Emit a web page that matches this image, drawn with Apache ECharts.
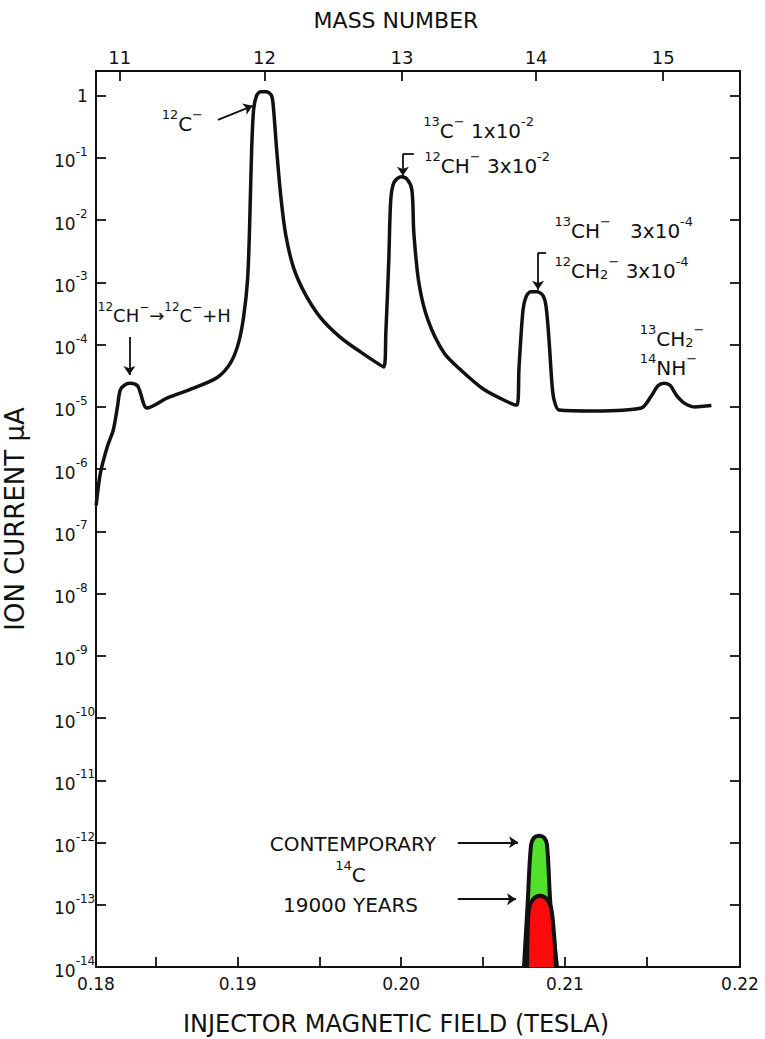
<!DOCTYPE html>
<html><head><meta charset="utf-8">
<script src="https://cdn.jsdelivr.net/npm/echarts@6/dist/echarts.min.js"></script>
<style>html,body{margin:0;padding:0;background:#fff}#c{width:765px;height:1039px}</style>
</head><body><div id="c"></div>
<script>
// ---- data (field in tesla, ion current in microampere) ----
const fieldMain = [0.18136,0.18162,0.18204,0.18241,0.18266,0.18284,0.18315,0.18345,0.18388,0.18406,0.18425,0.18443,
  0.18572,0.18731,0.18878,0.18957,0.19006,0.19037,0.19061,0.19073,0.19086,0.19098,0.19116,0.19141,0.19177,0.19208,
  0.19220,0.19239,0.19263,0.19294,0.19343,0.19416,0.19508,0.19630,0.19753,0.19894,0.19906,0.19924,0.19936,0.19955,
  0.19998,0.20034,0.20065,0.20077,0.20108,0.20163,0.20261,0.20365,0.20506,0.20652,0.20707,0.20720,0.20744,0.20763,
  0.20793,0.20830,0.20867,0.20885,0.20903,0.20922,0.20934,0.20965,0.21179,0.21466,0.21528,0.21570,0.21607,0.21644,
  0.21681,0.21730,0.21791,0.21895];
const currentMain = [2.6e-7,8.7e-7,2.3e-6,4.3e-6,1.0e-5,1.9e-5,2.3e-5,2.4e-5,2.2e-5,1.7e-5,1.15e-5,9.6e-6,
  1.4e-5,2.0e-5,3.0e-5,5.1e-5,1.07e-4,2.8e-4,1.1e-3,7e-3,0.135,0.6,1.0,1.16,1.16,1.0,
  0.6,0.135,0.026,5.9e-3,1.7e-3,6.3e-4,2.7e-4,1.3e-4,7.6e-5,4.4e-5,1.55e-4,2.3e-3,0.021,0.040,
  0.050,0.046,0.031,6.3e-3,9.8e-4,2.5e-4,7.4e-5,3.9e-5,1.9e-5,1.2e-5,1.07e-5,4.4e-5,3.6e-4,5.9e-4,
  7.1e-4,7.1e-4,6.1e-4,4.1e-4,1.2e-4,2.2e-5,1.3e-5,8.9e-6,8.6e-6,9.6e-6,1.5e-5,2.2e-5,2.4e-5,2.2e-5,
  1.55e-5,1.15e-5,1.0e-5,1.05e-5];
const fieldContemporary = [0.20750,0.20772,0.20793,0.20812,0.20842,0.20873,0.20891,0.20912,0.20952];
const currentContemporary = [1e-14,9.9e-14,9.1e-13,1.2e-12,1.29e-12,1.2e-12,9.1e-13,9.9e-14,1e-14];
const fieldOld = [0.20769,0.20772,0.20781,0.20806,0.20848,0.20891,0.20916,0.20934,0.20946];
const currentOld = [1e-14,3.24e-14,8.8e-14,1.23e-13,1.4e-13,1.23e-13,8.8e-14,3.24e-14,1e-14];
const massNumbers = [11,12,13,14,15];
const massField = [0.1828,0.19165,0.20004,0.20824,0.21601];
const fieldTicks = [0.185,0.19,0.195,0.20,0.205,0.21,0.215];
const fieldMin = 0.18135, fieldMax = 0.2207;
const fieldLabels = [fieldMin,0.19,0.20,0.21,fieldMax];
const currentMin = 1e-14, currentMax = 2.5;

// annotations in data coordinates
const notes = [
  {at:[0.18792,0.40], pos:'left', text:'{u|12}{n|C}{u|−}'},
  {at:[0.18143,3.24e-4], pos:'right', text:'{v|12}{m|CH}{v|−}{m|→}{v|12}{m|C}{v|−}{m|+H}'},
  {at:[0.20132,0.306], pos:'right', text:'{u|13}{n|C}{u|−}{n| 1x10}{u|-2}'},
  {at:[0.20138,0.0838], pos:'right', text:'{u|12}{n|CH}{u|−}{n| 3x10}{u|-2}'},
  {at:[0.20934,7.55e-3], pos:'right', text:'{u|13}{n|CH}{u|−}{n|   3x10}{u|-4}'},
  {at:[0.20934,1.72e-3], pos:'right', text:'{u|12}{n|CH}{d|2}{u|−}{n| 3x10}{u|-4}'},
  {at:[0.21454,1.36e-4], pos:'right', text:'{u|13}{n|CH}{d|2}{u|−}'},
  {at:[0.21454,4.7e-5], pos:'right', text:'{u|14}{n|NH}{u|−}'},
  {at:[0.19704,1.05e-12], pos:'inside', text:'{n|CONTEMPORARY}'},
  {at:[0.19690,3.34e-13], pos:'inside', text:'{u|14}{n|C}'},
  {at:[0.19690,1.1e-13], pos:'inside', text:'{n|19000 YEARS}'}
];
const arrows = [
  [[0.18880,0.41],[0.19092,0.69],true],
  [[0.18339,1.33e-4],[0.18339,3.27e-5],true],
  [[0.20010,0.117],[0.20077,0.117],false],
  [[0.20010,0.117],[0.20010,0.0517],true],
  [[0.20836,2.99e-3],[0.20885,2.99e-3],false],
  [[0.20836,2.99e-3],[0.20836,7.6e-4],true],
  [[0.20346,1.01e-12],[0.20714,1.01e-12],true],
  [[0.20346,1.23e-13],[0.20701,1.23e-13],true]
];

const FONT = 'DejaVu Sans';
const INK = '#111';
const richNote = {
  n:{fontFamily:FONT,fontSize:20,color:INK,lineHeight:26,verticalAlign:'bottom'},
  u:{fontFamily:FONT,fontSize:13,color:INK,lineHeight:10,verticalAlign:'top'},
  d:{fontFamily:FONT,fontSize:13,color:INK,lineHeight:12,verticalAlign:'bottom'},
  m:{fontFamily:FONT,fontSize:18,color:INK,lineHeight:24,verticalAlign:'bottom'},
  v:{fontFamily:FONT,fontSize:12,color:INK,lineHeight:10,verticalAlign:'top'}
};
function zip(a,b){return a.map((v,i)=>[v,b[i]]);}
function fmtY(v){
  const l = Math.log10(v), e = Math.round(l);
  if (Math.abs(l-e) > 1e-6) return '';
  if (e === 0) return '{one|1}';
  return '{b|10}{s|' + e + '}';
}
const yLabel = {
  align:'left', margin:42, formatter: fmtY,
  rich:{
    b:{fontFamily:FONT,fontSize:17,color:INK,lineHeight:24,verticalAlign:'bottom'},
    s:{fontFamily:FONT,fontSize:12,color:INK,lineHeight:10,verticalAlign:'top'},
    one:{fontFamily:FONT,fontSize:17,color:INK,lineHeight:24,padding:[0,0,0,23]}
  }
};
const axLine = {show:true, lineStyle:{color:INK,width:2}};
const axTick = {show:true, inside:true, length:10, lineStyle:{color:INK,width:1.8}};

const chart = echarts.init(document.getElementById('c'), null, {renderer:'svg'});
chart.setOption({
  animation:false,
  backgroundColor:'#fff',
  grid:{left:96, right:25, top:71, bottom:72, containLabel:false, outerBoundsMode:'none'},
  xAxis:[{
    type:'value', min:fieldMin, max:fieldMax, position:'bottom',
    axisLine:axLine, splitLine:{show:false},
    axisTick:Object.assign({customValues:fieldTicks}, axTick),
    axisLabel:{customValues:fieldLabels, margin:8, formatter:v=>v.toFixed(2),
      fontFamily:FONT, fontSize:17, color:INK},
    name:'INJECTOR MAGNETIC FIELD (TESLA)', nameLocation:'middle', nameGap:44,
    nameTextStyle:{fontFamily:FONT, fontSize:24, lineHeight:26, color:INK, padding:[0,44,0,0]}
  },{
    type:'value', min:fieldMin, max:fieldMax, position:'top',
    axisLine:axLine, splitLine:{show:false},
    axisTick:Object.assign({customValues:massField}, axTick),
    axisLabel:{customValues:massField, margin:5,
      formatter:v=>{let k=0;massField.forEach((m,i)=>{if(Math.abs(m-v)<Math.abs(massField[k]-v))k=i;});return String(massNumbers[k]);},
      fontFamily:FONT, fontSize:18, color:INK},
    name:'MASS NUMBER', nameLocation:'middle', nameGap:40,
    nameTextStyle:{fontFamily:FONT, fontSize:22, color:INK, padding:[0,44,0,0]}
  }],
  yAxis:[{
    type:'log', logBase:10, min:currentMin, max:currentMax, interval:1, position:'left',
    axisLine:axLine, axisTick:axTick, splitLine:{show:false}, minorTick:{show:false},
    axisLabel:yLabel,
    name:'ION CURRENT μA', nameLocation:'middle', nameGap:68, nameRotate:90,
    nameTextStyle:{fontFamily:FONT, fontSize:26, color:INK}
  },{
    type:'log', logBase:10, min:currentMin, max:currentMax, interval:1, position:'right',
    axisLine:axLine, axisTick:axTick, splitLine:{show:false}, minorTick:{show:false},
    axisLabel:{show:false}
  }],
  series:[{
    type:'line', name:'spectrum', data:zip(fieldMain,currentMain),
    showSymbol:false, symbol:'none', smooth:0.3,
    lineStyle:{color:INK, width:3.5}, z:3,
    markPoint:{
      symbol:'circle', symbolSize:1, itemStyle:{color:'rgba(0,0,0,0)'}, silent:true,
      data: notes.map(n=>({coord:n.at, label:{show:true, position:n.pos, distance:0, formatter:n.text, rich:richNote}}))
    },
    markLine:{
      silent:true, symbol:['none','arrow'], symbolSize:9, precision:6,
      label:{show:false}, lineStyle:{color:INK, width:1.8, type:'solid'},
      data: arrows.map(a=>[{coord:a[0], symbol:'none'},{coord:a[1], symbol:a[2]?'arrow':'none'}])
    }
  },{
    type:'line', name:'contemporary', data:zip(fieldContemporary,currentContemporary),
    showSymbol:false, symbol:'none', smooth:0.35, z:4,
    lineStyle:{color:INK, width:4}, areaStyle:{color:'#52e02c', opacity:1, origin:'start'}
  },{
    type:'line', name:'19000 years', data:zip(fieldOld,currentOld),
    showSymbol:false, symbol:'none', smooth:0.35, z:5,
    lineStyle:{color:INK, width:4}, areaStyle:{color:'#ff0a0a', opacity:1, origin:'start'}
  }]
});
</script></body></html>
